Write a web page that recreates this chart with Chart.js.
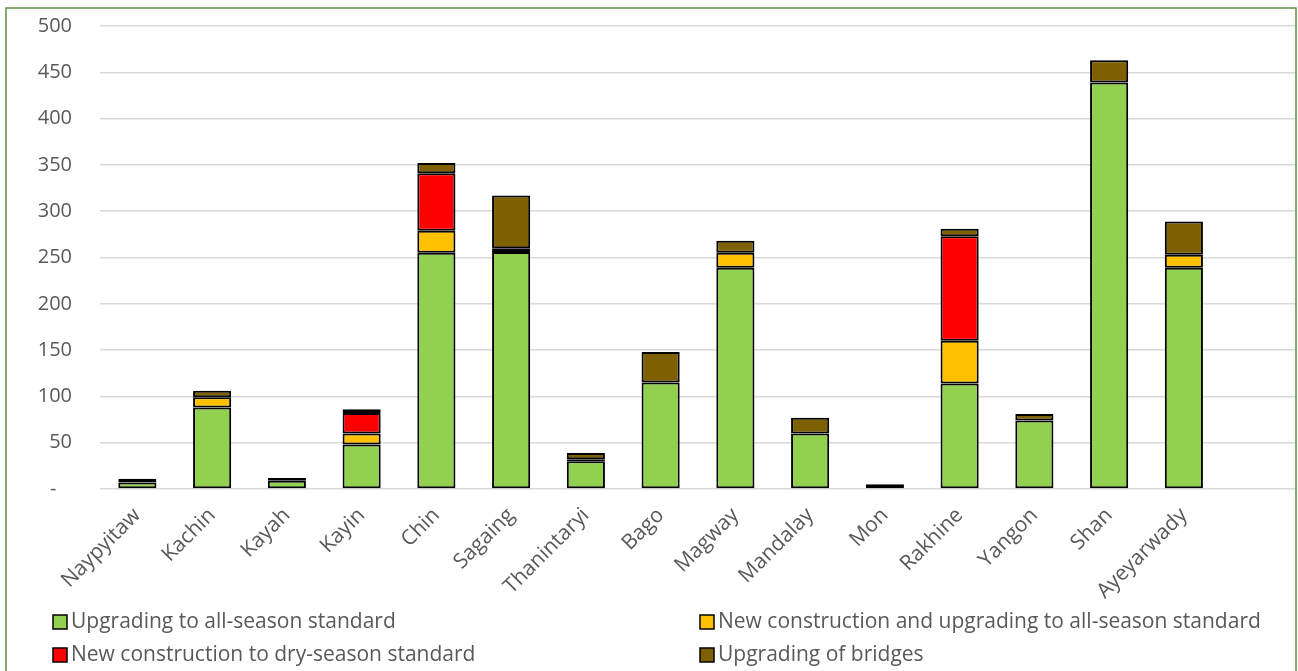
<!DOCTYPE html>
<html>
<head>
<meta charset="utf-8">
<script src="https://cdn.jsdelivr.net/npm/chart.js@4"></script>
<style>
	html, body { margin: 0; padding: 0; background: #ffffff; }
	#wrap { width: 1298px; height: 671px; position: relative; }
</style>
</head>
<body>
<div id="wrap"><canvas id="road-chart" width="1298" height="671"></canvas></div>
<script>
// Regions (last slot left empty on purpose, keeps the spacing of the axis)
const regions = ["Naypyitaw", "Kachin", "Kayah", "Kayin", "Chin", "Sagaing", "Thanintaryi", "Bago",
	"Magway", "Mandalay", "Mon", "Rakhine", "Yangon", "Shan", "Ayeyarwady", ""];

// Road works per region, one array per type of work
const allSeasonUpgrade = [7, 88, 9, 48, 255, 256, 30, 115, 239, 60, 0, 114, 74, 439, 239, null];
const newAllSeason = [0, 11, 0, 12, 24, 4, 2, 0, 16, 0, 0, 46, 0, 0, 14, null];
const newDrySeason = [0, 0, 0, 22, 62, 0, 0, 0, 0, 0, 0, 113, 0, 0, 0, null];
const bridgeUpgrade = [4, 7, 3, 4, 11, 57, 7, 33, 13, 17, 5, 8, 7, 24, 36, null];

const seriesNames = ["Upgrading to all-season standard", "New construction and upgrading to all-season standard",
	"New construction to dry-season standard", "Upgrading of bridges"];
const seriesColors = ["#92D050", "#FFC000", "#FF0000", "#7F6000"];

// Y axis
const yMax = 500;
const yStep = 50;

const textColor = "#595959";
const fontFamily = "'Open Sans', Lato, sans-serif";

const seriesData = [allSeasonUpgrade, newAllSeason, newDrySeason, bridgeUpgrade];

const chartDataSet = seriesData.map(function(values, i) {
	return {
		label: seriesNames[i],
		data: values,
		backgroundColor: seriesColors[i],
		borderColor: "#000000",
		borderWidth: 2,
		borderSkipped: false,
		barPercentage: 1,
		categoryPercentage: 0.51
	};
});

// Two column legend under the axis, plus the green frame
const legendAndFrame = {
	id: "legendAndFrame",
	afterDraw: function(chart) {
		const ctx = chart.ctx;
		const cols = [53, 700];
		const rows = [622, 655];
		ctx.save();
		ctx.font = "21px " + fontFamily;
		ctx.textBaseline = "middle";
		ctx.textAlign = "left";
		chart.data.datasets.forEach(function(ds, i) {
			const x = cols[i % 2];
			const y = rows[Math.floor(i / 2)];
			ctx.fillStyle = ds.backgroundColor;
			ctx.fillRect(x, y - 7, 14, 14);
			ctx.lineWidth = 1.5;
			ctx.strokeStyle = "#000000";
			ctx.strokeRect(x, y - 7, 14, 14);
			ctx.fillStyle = textColor;
			ctx.fillText(ds.label, x + 18, y);
		});
		ctx.strokeStyle = "#5E8F3E";
		ctx.lineWidth = 1.5;
		ctx.strokeRect(6, 8, 1290, 700);
		ctx.restore();
	}
};

const chartOptions = {
	responsive: false,
	animation: false,
	layout: {
		padding: { top: 26, right: 2, bottom: 60, left: 0 }
	},
	plugins: {
		legend: { display: false },
		tooltip: { enabled: false }
	},
	scales: {
		x: {
			stacked: true,
			grid: { display: false },
			border: { display: false },
			ticks: {
				color: textColor,
				font: { family: fontFamily, size: 21 },
				minRotation: 45,
				maxRotation: 45,
				autoSkip: false,
				padding: 6
			},
			afterFit: function(scale) { scale.height = 122; }
		},
		y: {
			stacked: true,
			min: 0,
			max: yMax,
			border: { display: false },
			// invisible tick marks keep the labels clear of the plot
			grid: { color: "#D9D9D9", lineWidth: 1.5, drawTicks: true, tickLength: 28, tickColor: "rgba(0,0,0,0)" },
			ticks: {
				stepSize: yStep,
				color: textColor,
				font: { family: fontFamily, size: 20 },
				padding: 0,
				callback: function(value) { return value === 0 ? "-   " : value; }
			},
			afterFit: function(scale) { scale.width = 100; }
		}
	}
};

const chartAllInputs = {
	type: "bar",
	data: { labels: regions, datasets: chartDataSet },
	options: chartOptions,
	plugins: [legendAndFrame]
};

new Chart(document.getElementById("road-chart"), chartAllInputs);
</script>
</body>
</html>
